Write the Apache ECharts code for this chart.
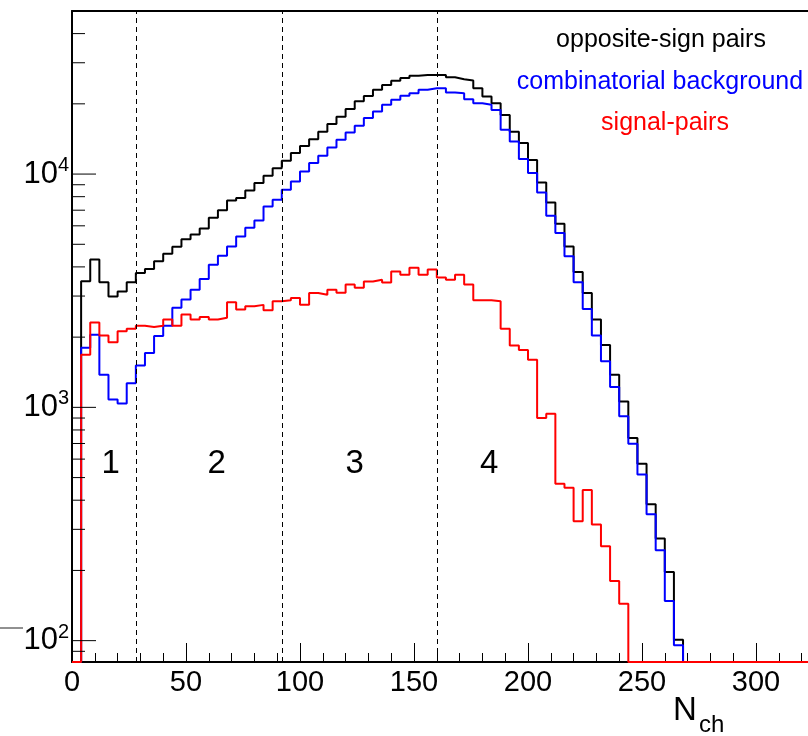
<!DOCTYPE html>
<html>
<head>
<meta charset="utf-8">
<script src="https://cdn.jsdelivr.net/npm/echarts@6/dist/echarts.min.js"></script>
<style>
html,body{margin:0;padding:0;background:#ffffff;}
#chart{width:808px;height:736px;}
</style>
</head>
<body>
<div id="chart"></div>
<script>
// ---- data (histograms with 4-unit bins starting at N_ch = 0) ----
const binWidth = 4;
const oppositeSign = [
  0, 3470, 4300, 3440, 2990, 3140, 3440, 3770, 3920, 4230,
  4550, 4880, 5250, 5510, 5850, 6490, 6990, 7710, 7890, 8510,
  9150, 9840, 10600, 11400, 12300, 13200, 14100, 15200, 16400, 17600,
  19000, 20500, 21600, 23000, 24100, 25100, 25800, 26400, 26600, 26600,
  26600, 26000, 25500, 25200, 23300, 21500, 20100, 17900, 15200, 13600,
  11500, 9210, 7560, 6120, 4890, 3800, 3090, 2380, 1850, 1380,
  1060, 739, 573, 384, 274, 197, 101
];
const combinatorial = [
  0, 1800, 2050, 1380, 1080, 1040, 1270, 1510, 1710, 2020,
  2240, 2670, 2900, 3190, 3550, 4090, 4470, 4890, 5400, 5880,
  6330, 7260, 7760, 8570, 9300, 10260, 11150, 11980, 13000, 14020,
  15070, 16100, 17370, 18540, 19810, 20810, 21640, 22220, 22960, 23350,
  23350, 22380, 22200, 20950, 20130, 19800, 18840, 15490, 13800, 11590,
  10100, 8340, 6620, 5590, 4440, 3440, 2640, 2030, 1575, 1224,
  916, 698, 515, 348, 244, 148, 95.5
];
const signalPairs = [
  0, 1680, 2310, 2030, 1900, 2120, 2170, 2240, 2210, 2240,
  2380, 2240, 2500, 2380, 2440, 2380, 2420, 2820, 2630, 2710,
  2750, 2610, 2850, 2880, 2940, 2750, 3090, 3040, 3190, 3100,
  3360, 3260, 3460, 3525, 3430, 3820, 3700, 3970, 3700, 3900,
  3600, 3525, 3700, 3360, 2880, 2880, 2850, 2170, 1840, 1760,
  1600, 900, 940, 470, 452, 325, 442, 315, 254, 180,
  144
];
const regionEdges = [28, 92, 160];
const regionLabels = ['1', '2', '3', '4'];
const regionLabelX = [17, 63.5, 124, 183];
const regionLabelY = 572;
const yTickValues = [90, 100, 200, 300, 400, 500, 600, 700, 800, 900,
  1000, 2000, 3000, 4000, 5000, 6000, 7000, 8000, 9000,
  10000, 20000, 30000, 40000];
const legendTexts = ['opposite-sign pairs', 'combinatorial background', 'signal-pairs'];
const seriesColors = ['#000000', '#0000ff', '#ff0000'];
const xAxisTitle = ['N', 'ch'];

const X_MIN = 0, X_MAX = 350, Y_MIN = 81, Y_MAX = 50000;
const FONT = '"Liberation Sans", Arial, Helvetica, sans-serif';

function histPoints(vals) {
  const n = Math.ceil(X_MAX / binWidth);
  const pts = [];
  for (let i = 0; i < n; i++) {
    let v = vals[i];
    if (!(v > 0)) v = Y_MIN;
    pts.push([i * binWidth, v]);
    pts.push([(i + 1) * binWidth, v]);
  }
  return pts;
}

function histSeries(name, vals, color, extra) {
  return Object.assign({
    name: name,
    type: 'line',
    data: histPoints(vals),
    showSymbol: false,
    symbol: 'none',
    lineStyle: { color: color, width: 2 },
    itemStyle: { color: color },
    silent: true,
    clip: true,
    z: 3
  }, extra || {});
}

const chart = echarts.init(document.getElementById('chart'), null, { renderer: 'canvas' });

const option = {
  animation: false,
  backgroundColor: '#ffffff',
  grid: { left: 72, top: 11, width: 798, height: 651, containLabel: false, outerBoundsMode: 'none' },
  xAxis: [{
    type: 'value', min: X_MIN, max: X_MAX, interval: 50,
    axisLine: { show: true, onZero: false, lineStyle: { color: '#000', width: 2 } },
    axisTick: { show: true, inside: true, length: 19, lineStyle: { color: '#000', width: 1 } },
    minorTick: { show: true, splitNumber: 5, length: 9, lineStyle: { color: '#000', width: 1 } },
    splitLine: { show: false },
    axisLabel: {
      color: '#000', fontSize: 29, fontFamily: FONT, margin: 6,
      formatter: v => (v % 50 === 0 && v <= 300) ? String(v) : ''
    }
  }, {
    type: 'value', min: X_MIN, max: X_MAX, position: 'top',
    axisLine: { show: true, onZero: false, lineStyle: { color: '#000', width: 2 } },
    axisTick: { show: false }, axisLabel: { show: false }, splitLine: { show: false }
  }],
  yAxis: {
    type: 'log', logBase: 10, min: Y_MIN, max: Y_MAX,
    axisLine: { show: true, onZero: false, lineStyle: { color: '#000', width: 2 } },
    axisTick: { show: false },
    splitLine: { show: false },
    minorTick: { show: false },
    axisLabel: {
      margin: 3,
      formatter: function (v) {
        const l = Math.log10(v);
        const e = Math.round(l);
        if (Math.abs(l - e) > 1e-6) return '';
        return '{b|10}{s|' + e + '}';
      },
      rich: {
        b: { fontSize: 31, fontFamily: FONT, color: '#000' },
        s: { fontSize: 20, fontFamily: FONT, color: '#000', padding: [0, 0, 17, 0] }
      }
    }
  },
  series: [
    histSeries(legendTexts[0], oppositeSign, seriesColors[0], {
      markLine: {
        silent: true, symbol: 'none', animation: false,
        label: { show: false },
        lineStyle: { color: '#000', width: 1, type: [5, 4] },
        data: regionEdges.map(x => ({ xAxis: x }))
      }
    }),
    histSeries(legendTexts[1], combinatorial, seriesColors[1]),
    histSeries(legendTexts[2], signalPairs, seriesColors[2]),
    {
      type: 'custom', coordinateSystem: 'cartesian2d', silent: true, clip: false, z: 5,
      data: regionLabels.map((t, i) => [regionLabelX[i], regionLabelY]),
      encode: { x: 0, y: 1 },
      renderItem: function (params, api) {
        const p = api.coord([api.value(0), api.value(1)]);
        return {
          type: 'text', x: p[0], y: p[1],
          style: {
            text: regionLabels[params.dataIndex], fill: '#000',
            fontSize: 33, fontFamily: FONT, align: 'center', verticalAlign: 'middle'
          }
        };
      }
    },
    {
      type: 'custom', coordinateSystem: 'cartesian2d', silent: true, clip: false, z: 4,
      data: yTickValues.map(v => [X_MIN, v]),
      encode: { x: 0, y: 1 },
      renderItem: function (params, api) {
        const v = api.value(1);
        const p = api.coord([api.value(0), v]);
        const l = Math.log10(v);
        const major = Math.abs(l - Math.round(l)) < 1e-6;
        const len = major ? 24 : 13;
        return {
          type: 'line',
          shape: { x1: p[0], y1: p[1], x2: p[0] + len, y2: p[1] },
          style: { stroke: '#000', lineWidth: 1 }
        };
      }
    }
  ],
  graphic: [
    { type: 'text', x: 661, y: 40, style: { text: legendTexts[0], fill: seriesColors[0], fontSize: 25, fontFamily: FONT, align: 'center', verticalAlign: 'middle' } },
    { type: 'text', x: 660, y: 82, style: { text: legendTexts[1], fill: seriesColors[1], fontSize: 25, fontFamily: FONT, align: 'center', verticalAlign: 'middle' } },
    { type: 'text', x: 665, y: 123, style: { text: legendTexts[2], fill: seriesColors[2], fontSize: 25, fontFamily: FONT, align: 'center', verticalAlign: 'middle' } },
    { type: 'text', x: 673, y: 711, style: { text: xAxisTitle[0], fill: '#000', fontSize: 33, fontFamily: FONT, align: 'left', verticalAlign: 'middle' } },
    { type: 'text', x: 699, y: 725, style: { text: xAxisTitle[1], fill: '#000', fontSize: 24, fontFamily: FONT, align: 'left', verticalAlign: 'middle' } },
    { type: 'line', shape: { x1: 0, y1: 628, x2: 23, y2: 628 }, style: { stroke: '#222', lineWidth: 1 } }
  ]
};

chart.setOption(option);
</script>
</body>
</html>
